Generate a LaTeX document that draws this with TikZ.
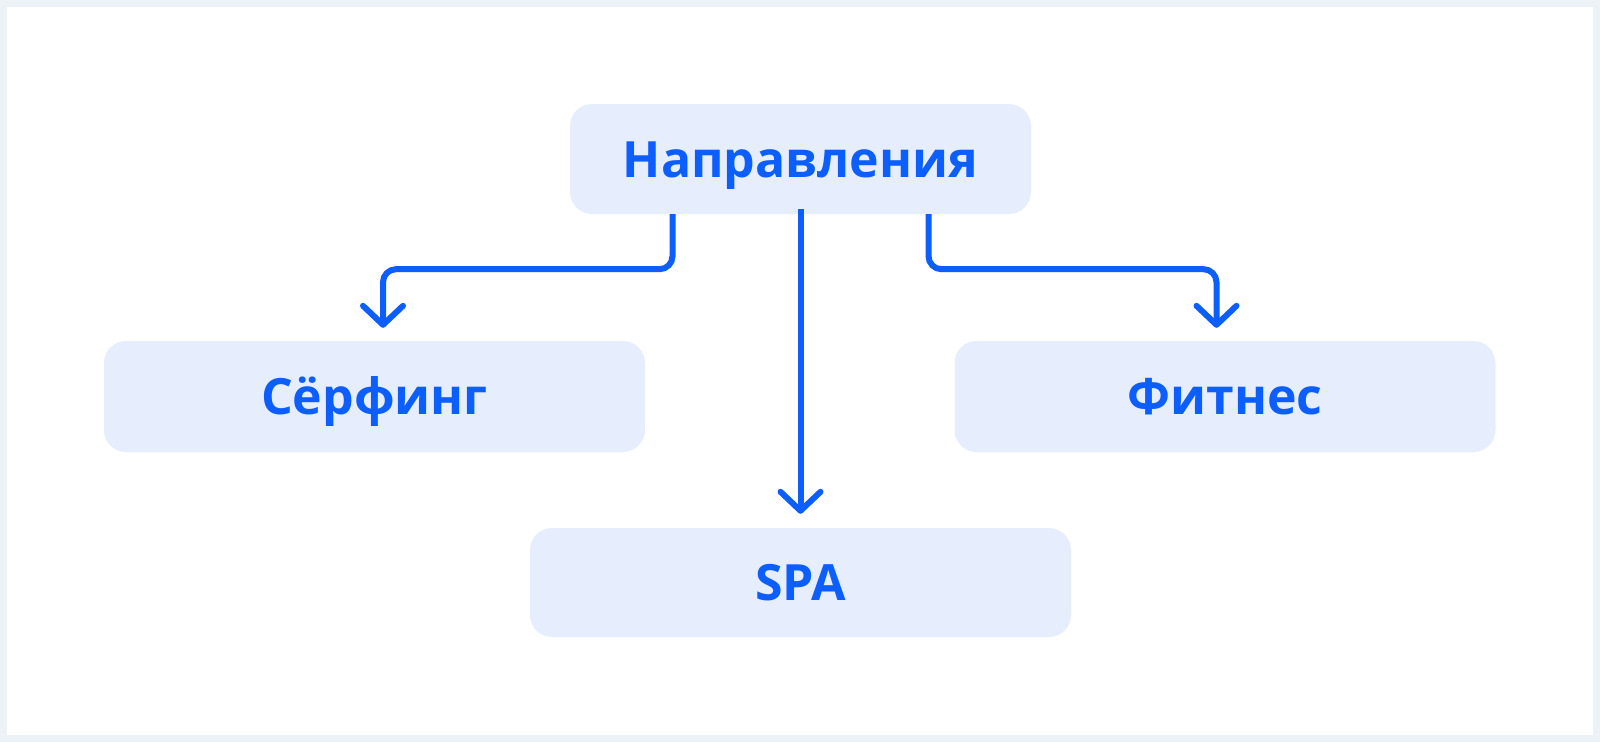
\documentclass[tikz,border=0pt]{standalone}
\usepackage{fontspec}
\setmainfont{Open Sans}
\usetikzlibrary{arrows.meta,positioning}
\definecolor{mainblue}{HTML}{0D5EFF}
\definecolor{boxfill}{HTML}{E6EEFD}
\definecolor{framegray}{HTML}{EDF2F7}
\begin{document}
\begin{tikzpicture}[x=1pt, y=-1pt,
    box/.style={fill=boxfill, rounded corners=22pt, minimum width=541pt, minimum height=110pt, inner sep=0pt, text height=36pt, text depth=0pt, text=mainblue, font=\fontsize{50}{60}\selectfont\bfseries},
    conn/.style={draw=mainblue, line width=6pt, rounded corners=13pt, -{Straight Barb[length=19pt,width=40pt,round]}}]
  % frame
  \fill[framegray] (0,0) rectangle (1600,742);
  \fill[white] (7,7) rectangle (1593,735);
  % boxes
  \node[box, minimum width=461pt] (dir) at (800.5,159) {Направления};
  \node[box, minimum height=111pt] (surf) at (374.5,396.5) {Сёрфинг};
  \node[box, minimum height=111pt] (fit) at (1225,396.5) {Фитнес};
  \node[box, minimum height=109pt] (spa) at (800.5,582.5) {SPA};
  % arrow ends
  \coordinate (surfin) at ([xshift=8.5pt, yshift=13pt]surf.north);
  \coordinate (fitin) at ([xshift=-8.5pt, yshift=13pt]fit.north);
  \coordinate (spain) at ([yshift=14pt]spa.north);
  % connectors
  \draw[conn] ([xshift=-128pt]dir.south) -- ++(0,55) -| (surfin);
  \draw[conn] ([xshift=128pt]dir.south) -- ++(0,55) -| (fitin);
  \draw[conn] ([yshift=5.5pt]dir.south) -- (spain);
\end{tikzpicture}
\end{document}
